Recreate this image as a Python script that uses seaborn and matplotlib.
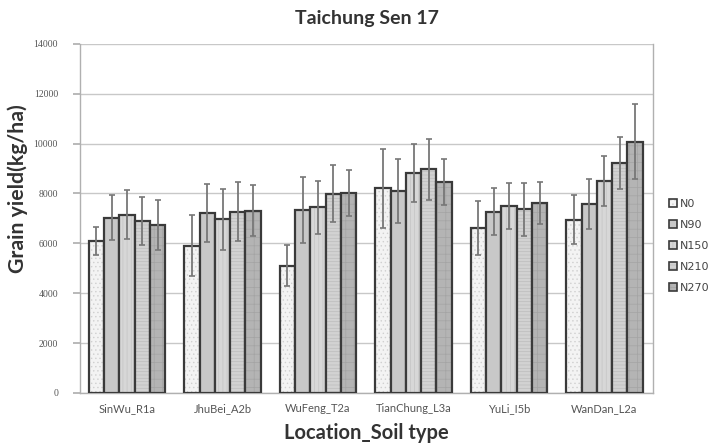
import numpy as np
import pandas as pd
import matplotlib
matplotlib.use("Agg")
import matplotlib.pyplot as plt
import matplotlib.colors as mcolors
from matplotlib.patches import Patch
import seaborn as sns

# Sites (location_soil type) and nitrogen rates
sites = ["SinWu_R1a", "JhuBei_A2b", "WuFeng_T2a", "TianChung_L3a", "YuLi_I5b", "WanDan_L2a"]
treatments = ["N0", "N90", "N150", "N210", "N270"]

# Mean grain yield (kg/ha) per site, one list per nitrogen rate
n0 = [6100, 5900, 5100, 8200, 6620, 6950]
n90 = [7030, 7220, 7350, 8100, 7270, 7580]
n150 = [7150, 6970, 7450, 8820, 7510, 8490]
n210 = [6900, 7270, 7990, 8960, 7370, 9220]
n270 = [6730, 7300, 8030, 8460, 7610, 10080]

# Standard deviations (kg/ha)
sd_n0 = [550, 1220, 820, 1600, 1080, 970]
sd_n90 = [900, 1170, 1320, 1270, 940, 990]
sd_n150 = [970, 1220, 1060, 1180, 920, 1000]
sd_n210 = [960, 1190, 1140, 1220, 1060, 1040]
sd_n270 = [1000, 1020, 920, 910, 830, 1490]

means = [n0, n90, n150, n210, n270]
sds = [sd_n0, sd_n90, sd_n150, sd_n210, sd_n270]

df = pd.DataFrame({
    "site": np.tile(sites, len(treatments)),
    "treatment": np.repeat(treatments, len(sites)),
    "yield": np.concatenate(means),
    "sd": np.concatenate(sds),
})

fills = ["#f3f3f3", "#c8c8c8", "#d7d7d7", "#d2d2d2", "#b4b4b4"]
hatches = ["....", "", "||||", "-----", "++"]
hatch_cols = ["#d0d0d0", "#c0c0c0", "#c4c4c4", "#bdbdbd", "#a4a4a4"]
edge = "#3a3a3a"

sns.set_theme(style="white")
plt.rcParams["font.family"] = ["Lato", "DejaVu Sans"]
plt.rcParams["hatch.linewidth"] = 0.5

fig, ax = plt.subplots(figsize=(7.10, 4.47), dpi=100)
fig.subplots_adjust(left=0.113, right=0.92, top=0.902, bottom=0.121)

sns.barplot(data=df, x="site", y="yield", hue="treatment", order=sites,
            hue_order=treatments, palette=fills, errorbar=None, width=0.8,
            edgecolor=edge, linewidth=1.6, ax=ax, legend=False, zorder=3)

# Style each bar group and add error bars from the bar geometry
bar_containers = list(ax.containers)
for i, cont in enumerate(bar_containers):
    xs, ys = [], []
    for bar in cont:
        bar.set_hatch(hatches[i])
        bar._hatch_color = mcolors.to_rgba(hatch_cols[i])
        xs.append(bar.get_x() + bar.get_width() / 2)
        ys.append(bar.get_height())
    ax.errorbar(xs, ys, yerr=sds[i], fmt="none", ecolor="#777777",
                elinewidth=1.3, capsize=2.5, capthick=1.2, zorder=4)

ax.set_xlim(-0.49, len(sites) - 0.49)
ax.set_ylim(0, 14000)
ax.set_yticks(np.arange(0, 14001, 2000))
ax.yaxis.grid(True, color="#c8c8c8", linewidth=1.0, zorder=0)
ax.set_axisbelow(True)
ax.spines["top"].set_visible(False)
for s in ["left", "right", "bottom"]:
    ax.spines[s].set_color("#b0b0b0")
    ax.spines[s].set_linewidth(1.0)
ax.tick_params(axis="y", length=5, color="#b0b0b0", labelsize=7,
               labelcolor="#555555", pad=11, left=True)
ax.tick_params(axis="x", length=0, labelsize=8, labelcolor="#555555", pad=7)
for lab in ax.get_yticklabels():
    lab.set_fontfamily(["Liberation Serif"])

ax.set_title("Taichung Sen 17", fontsize=14, fontweight="bold", color="#333333", pad=14)
ax.set_xlabel("Location_Soil type", fontsize=14.5, fontweight="bold", color="#333333", labelpad=7)
ax.set_ylabel("Grain yield(kg/ha)", fontsize=15.3, fontweight="bold", color="#333333")
ax.yaxis.set_label_coords(-0.092, 0.585)

# Legend with matching patch styles
handles = []
for i, t in enumerate(treatments):
    p = Patch(facecolor=fills[i], edgecolor=edge, linewidth=1.2, hatch=hatches[i], label=t)
    p._hatch_color = mcolors.to_rgba(hatch_cols[i])
    handles.append(p)
leg = fig.legend(handles=handles, loc="center left", bbox_to_anchor=(0.942, 0.45),
                 frameon=False, handlelength=0.75, handleheight=0.75,
                 handletextpad=0.25, labelspacing=1.0, borderaxespad=0, borderpad=0,
                 prop={"family": ["DejaVu Sans"], "size": 8})
for txt in leg.get_texts():
    txt.set_color("#444444")

fig.savefig("out.png", dpi=100)
